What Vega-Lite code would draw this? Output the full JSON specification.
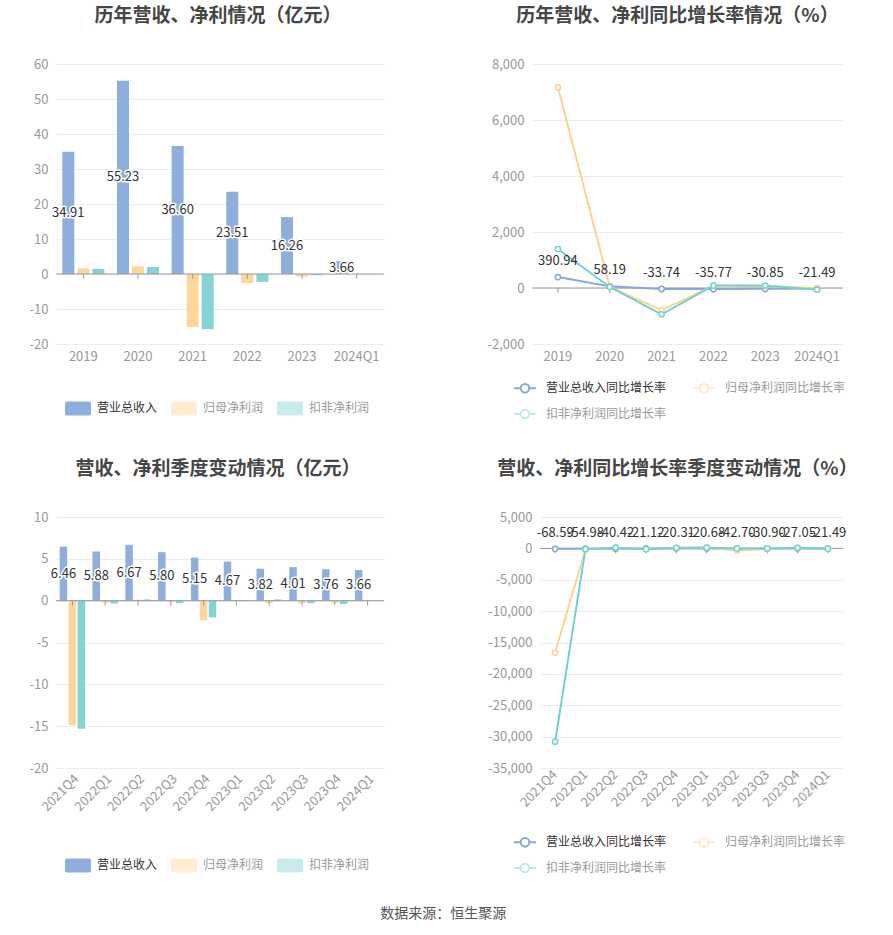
{
  "$schema": "https://vega.github.io/schema/vega-lite/v6.json",
  "background": "white",
  "padding": {"left": 29, "top": 7, "right": 5, "bottom": 5},
  "datasets": {
    "annualAmt": [
      {"period": "2019", "series": "营业总收入", "value": 34.91},
      {"period": "2020", "series": "营业总收入", "value": 55.23},
      {"period": "2021", "series": "营业总收入", "value": 36.60},
      {"period": "2022", "series": "营业总收入", "value": 23.51},
      {"period": "2023", "series": "营业总收入", "value": 16.26},
      {"period": "2024Q1", "series": "营业总收入", "value": 3.66},
      {"period": "2019", "series": "归母净利润", "value": 1.6},
      {"period": "2020", "series": "归母净利润", "value": 2.2},
      {"period": "2021", "series": "归母净利润", "value": -15.1},
      {"period": "2022", "series": "归母净利润", "value": -2.6},
      {"period": "2023", "series": "归母净利润", "value": -0.75},
      {"period": "2024Q1", "series": "归母净利润", "value": 0.05},
      {"period": "2019", "series": "扣非净利润", "value": 1.45},
      {"period": "2020", "series": "扣非净利润", "value": 2.0},
      {"period": "2021", "series": "扣非净利润", "value": -15.75},
      {"period": "2022", "series": "扣非净利润", "value": -2.25},
      {"period": "2023", "series": "扣非净利润", "value": -0.35},
      {"period": "2024Q1", "series": "扣非净利润", "value": 0.02}
    ],
    "annualGrowth": [
      {"period": "2019", "series": "营业总收入同比增长率", "value": 390.94},
      {"period": "2020", "series": "营业总收入同比增长率", "value": 58.19},
      {"period": "2021", "series": "营业总收入同比增长率", "value": -33.74},
      {"period": "2022", "series": "营业总收入同比增长率", "value": -35.77},
      {"period": "2023", "series": "营业总收入同比增长率", "value": -30.85},
      {"period": "2024Q1", "series": "营业总收入同比增长率", "value": -21.49},
      {"period": "2019", "series": "归母净利润同比增长率", "value": 7170},
      {"period": "2020", "series": "归母净利润同比增长率", "value": 42},
      {"period": "2021", "series": "归母净利润同比增长率", "value": -790},
      {"period": "2022", "series": "归母净利润同比增长率", "value": 83},
      {"period": "2023", "series": "归母净利润同比增长率", "value": 73},
      {"period": "2024Q1", "series": "归母净利润同比增长率", "value": -5},
      {"period": "2019", "series": "扣非净利润同比增长率", "value": 1390},
      {"period": "2020", "series": "扣非净利润同比增长率", "value": 38},
      {"period": "2021", "series": "扣非净利润同比增长率", "value": -940},
      {"period": "2022", "series": "扣非净利润同比增长率", "value": 86},
      {"period": "2023", "series": "扣非净利润同比增长率", "value": 87},
      {"period": "2024Q1", "series": "扣非净利润同比增长率", "value": -60}
    ],
    "quarterAmt": [
      {"period": "2021Q4", "series": "营业总收入", "value": 6.46},
      {"period": "2022Q1", "series": "营业总收入", "value": 5.88},
      {"period": "2022Q2", "series": "营业总收入", "value": 6.67},
      {"period": "2022Q3", "series": "营业总收入", "value": 5.80},
      {"period": "2022Q4", "series": "营业总收入", "value": 5.15},
      {"period": "2023Q1", "series": "营业总收入", "value": 4.67},
      {"period": "2023Q2", "series": "营业总收入", "value": 3.82},
      {"period": "2023Q3", "series": "营业总收入", "value": 4.01},
      {"period": "2023Q4", "series": "营业总收入", "value": 3.76},
      {"period": "2024Q1", "series": "营业总收入", "value": 3.66},
      {"period": "2021Q4", "series": "归母净利润", "value": -14.9},
      {"period": "2022Q1", "series": "归母净利润", "value": -0.25},
      {"period": "2022Q2", "series": "归母净利润", "value": 0.12},
      {"period": "2022Q3", "series": "归母净利润", "value": -0.2},
      {"period": "2022Q4", "series": "归母净利润", "value": -2.35},
      {"period": "2023Q1", "series": "归母净利润", "value": 0.05},
      {"period": "2023Q2", "series": "归母净利润", "value": -0.3},
      {"period": "2023Q3", "series": "归母净利润", "value": -0.3},
      {"period": "2023Q4", "series": "归母净利润", "value": -0.3},
      {"period": "2024Q1", "series": "归母净利润", "value": 0.05},
      {"period": "2021Q4", "series": "扣非净利润", "value": -15.3},
      {"period": "2022Q1", "series": "扣非净利润", "value": -0.35},
      {"period": "2022Q2", "series": "扣非净利润", "value": 0.15},
      {"period": "2022Q3", "series": "扣非净利润", "value": -0.3},
      {"period": "2022Q4", "series": "扣非净利润", "value": -2.0},
      {"period": "2023Q1", "series": "扣非净利润", "value": 0.05},
      {"period": "2023Q2", "series": "扣非净利润", "value": 0.15},
      {"period": "2023Q3", "series": "扣非净利润", "value": -0.3},
      {"period": "2023Q4", "series": "扣非净利润", "value": -0.4},
      {"period": "2024Q1", "series": "扣非净利润", "value": 0.02}
    ],
    "quarterGrowth": [
      {"period": "2021Q4", "series": "营业总收入同比增长率", "value": -68.59},
      {"period": "2022Q1", "series": "营业总收入同比增长率", "value": -54.98},
      {"period": "2022Q2", "series": "营业总收入同比增长率", "value": -40.42},
      {"period": "2022Q3", "series": "营业总收入同比增长率", "value": -21.12},
      {"period": "2022Q4", "series": "营业总收入同比增长率", "value": -20.31},
      {"period": "2023Q1", "series": "营业总收入同比增长率", "value": -20.68},
      {"period": "2023Q2", "series": "营业总收入同比增长率", "value": -42.70},
      {"period": "2023Q3", "series": "营业总收入同比增长率", "value": -30.90},
      {"period": "2023Q4", "series": "营业总收入同比增长率", "value": -27.05},
      {"period": "2024Q1", "series": "营业总收入同比增长率", "value": -21.49},
      {"period": "2021Q4", "series": "归母净利润同比增长率", "value": -16600},
      {"period": "2022Q1", "series": "归母净利润同比增长率", "value": -120},
      {"period": "2022Q2", "series": "归母净利润同比增长率", "value": 105},
      {"period": "2022Q3", "series": "归母净利润同比增长率", "value": -110},
      {"period": "2022Q4", "series": "归母净利润同比增长率", "value": 84},
      {"period": "2023Q1", "series": "归母净利润同比增长率", "value": 120},
      {"period": "2023Q2", "series": "归母净利润同比增长率", "value": -350},
      {"period": "2023Q3", "series": "归母净利润同比增长率", "value": -50},
      {"period": "2023Q4", "series": "归母净利润同比增长率", "value": 87},
      {"period": "2024Q1", "series": "归母净利润同比增长率", "value": 0},
      {"period": "2021Q4", "series": "扣非净利润同比增长率", "value": -30800},
      {"period": "2022Q1", "series": "扣非净利润同比增长率", "value": -130},
      {"period": "2022Q2", "series": "扣非净利润同比增长率", "value": 110},
      {"period": "2022Q3", "series": "扣非净利润同比增长率", "value": -120},
      {"period": "2022Q4", "series": "扣非净利润同比增长率", "value": 87},
      {"period": "2023Q1", "series": "扣非净利润同比增长率", "value": 114},
      {"period": "2023Q2", "series": "扣非净利润同比增长率", "value": 0},
      {"period": "2023Q3", "series": "扣非净利润同比增长率", "value": 0},
      {"period": "2023Q4", "series": "扣非净利润同比增长率", "value": 80},
      {"period": "2024Q1", "series": "扣非净利润同比增长率", "value": -60}
    ]
  },
  "title": {"text": "数据来源：恒生聚源", "orient": "bottom", "anchor": "middle", "frame": "bounds", "fontSize": 14, "fontWeight": "normal", "color": "#555555", "offset": 30, "dx": 0},
  "spacing": 453,
  "bounds": "flush",
  "resolve": {"scale": {"color": "independent", "xOffset": "independent"}, "legend": {"color": "independent"}},
  "vconcat": [
    {
      "spacing": 148,
      "bounds": "flush",
      "resolve": {"scale": {"color": "independent", "xOffset": "independent"}, "legend": {"color": "independent"}},
      "hconcat": [
        {
          "width": 328, "height": 280,
          "title": {"text": "历年营收、净利情况（亿元）", "dx": -2},
          "layer": [
            {
              "data": {"name": "annualAmt"},
              "mark": {"type": "bar"},
              "encoding": {
                "x": {"field": "period", "type": "nominal", "sort": null, "scale": {"paddingInner": 0.23, "paddingOuter": 0.115}, "axis": {"labelAngle": 0, "labelAlign": "center", "labelBaseline": "top", "labelPadding": 6}},
                "xOffset": {"field": "series", "type": "nominal", "sort": null, "scale": {"domain": ["营业总收入", "归母净利润", "扣非净利润"], "paddingInner": 0.2, "paddingOuter": 0}},
                "y": {"field": "value", "type": "quantitative", "scale": {"domain": [-20, 60]}, "axis": {"values": [-20, -10, 0, 10, 20, 30, 40, 50, 60], "tickCount": 12, "labelOverlap": false}},
                "color": {"field": "series", "type": "nominal", "scale": {"domain": ["营业总收入", "归母净利润", "扣非净利润"], "range": ["#8EAEDC", "#FFD699", "#84D4D6"]},
                  "legend": {"orient": "none", "legendX": 9, "legendY": 331, "direction": "horizontal", "title": null,
                    "symbolType": "M-0.85,-0.54H0.85A0.15,0.15,0,0,1,1,-0.39V0.39A0.15,0.15,0,0,1,0.85,0.54H-0.85A0.15,0.15,0,0,1,-1,0.39V-0.39A0.15,0.15,0,0,1,-0.85,-0.54Z",
                    "symbolSize": 676, "symbolStrokeWidth": 0, "labelFontSize": 12, "labelOffset": 6, "columnPadding": 12,
                    "encode": {"symbols": {"update": {"opacity": {"signal": "datum.label === '营业总收入' ? 1 : 0.45"}}}, "labels": {"update": {"fill": {"signal": "datum.label === '营业总收入' ? '#333333' : '#999999'"}}}}}}
              }
            },
            {"data": {"values": [{}]}, "mark": {"type": "rule", "color": "#999999"}, "encoding": {"y": {"datum": 0}}},
            {
              "data": {"name": "annualAmt"},
              "transform": [{"filter": "datum.series === '营业总收入'"}],
              "mark": {"type": "rule", "color": "#999999"},
              "encoding": {"x": {"field": "period", "type": "nominal", "sort": null}, "y": {"datum": 0}, "y2": {"datum": -1.4}}
            },
            {
              "data": {"name": "annualAmt"},
              "transform": [{"filter": "datum.series === '营业总收入'"}],
              "mark": {"type": "text", "fontSize": 13, "fill": "white", "stroke": "white", "strokeWidth": 3, "strokeJoin": "round"},
              "encoding": {
                "x": {"field": "period", "type": "nominal", "sort": null},
                "xOffset": {"field": "series", "type": "nominal", "sort": null},
                "y": {"field": "value", "type": "quantitative", "stack": "zero", "bandPosition": 0.5},
                "text": {"field": "value", "type": "quantitative", "format": ".2f"}
              }
            },
            {
              "data": {"name": "annualAmt"},
              "transform": [{"filter": "datum.series === '营业总收入'"}],
              "mark": {"type": "text", "fontSize": 13, "fill": "#333333"},
              "encoding": {
                "x": {"field": "period", "type": "nominal", "sort": null},
                "xOffset": {"field": "series", "type": "nominal", "sort": null},
                "y": {"field": "value", "type": "quantitative", "stack": "zero", "bandPosition": 0.5},
                "text": {"field": "value", "type": "quantitative", "format": ".2f"}
              }
            }
          ]
        },
        {
          "width": 311, "height": 280,
          "title": {"text": "历年营收、净利同比增长率情况（%）", "dx": -10},
          "layer": [
            {"data": {"values": [{}]}, "mark": {"type": "rule", "color": "#999999"}, "encoding": {"y": {"datum": 0}}},
            {
              "data": {"name": "annualGrowth"},
              "transform": [{"filter": "datum.series === '营业总收入同比增长率'"}],
              "mark": {"type": "rule", "color": "#999999"},
              "encoding": {"x": {"field": "period", "type": "nominal", "sort": null, "axis": {"labelAngle": 0, "labelAlign": "center", "labelBaseline": "top", "labelPadding": 6}}, "y": {"datum": 0}, "y2": {"datum": -178}}
            },
            {
              "data": {"name": "annualGrowth"},
              "mark": {"type": "line", "strokeWidth": 2},
              "encoding": {
                "x": {"field": "period", "type": "nominal", "sort": null, "axis": {"labelAngle": 0, "labelAlign": "center", "labelBaseline": "top", "labelPadding": 6}},
                "y": {"field": "value", "type": "quantitative", "scale": {"domain": [-2000, 8000]}, "axis": {"values": [-2000, 0, 2000, 4000, 6000, 8000], "tickCount": 12, "labelOverlap": false}},
                "color": {"field": "series", "type": "nominal", "scale": {"domain": ["营业总收入同比增长率", "归母净利润同比增长率", "扣非净利润同比增长率"], "range": ["#87A7DB", "#FFD28F", "#74D1D2"]},
                  "legend": {"orient": "none", "legendX": -19, "legendY": 312, "direction": "horizontal", "columns": 2, "title": null,
                    "symbolType": "M-1,0H-0.39M0.39,0H1M0.39,0A0.39,0.39,0,1,1,-0.39,0A0.39,0.39,0,1,1,0.39,0",
                    "symbolSize": 484, "symbolStrokeWidth": 2, "labelFontSize": 12, "labelOffset": 9, "columnPadding": 22, "rowPadding": 5,
                    "encode": {"symbols": {"update": {"fill": {"value": "white"}, "opacity": {"signal": "datum.label === '营业总收入同比增长率' ? 1 : 0.45"}}}, "labels": {"update": {"fill": {"signal": "datum.label === '营业总收入同比增长率' ? '#333333' : '#999999'"}}}}}}
              }
            },
            {
              "data": {"name": "annualGrowth"},
              "mark": {"type": "point", "filled": false, "fill": "white", "fillOpacity": 1, "size": 28, "strokeWidth": 1.5, "opacity": 1},
              "encoding": {
                "x": {"field": "period", "type": "nominal", "sort": null},
                "y": {"field": "value", "type": "quantitative"},
                "color": {"field": "series", "type": "nominal", "legend": null}
              }
            },
            {
              "data": {"name": "annualGrowth"},
              "transform": [{"filter": "datum.series === '营业总收入同比增长率'"}],
              "mark": {"type": "text", "fontSize": 13, "fill": "#333333", "dy": -16},
              "encoding": {
                "x": {"field": "period", "type": "nominal", "sort": null},
                "y": {"field": "value", "type": "quantitative"},
                "text": {"field": "value", "type": "quantitative", "format": ".2f"}
              }
            }
          ]
        }
      ]
    },
    {
      "spacing": 156,
      "bounds": "flush",
      "resolve": {"scale": {"color": "independent", "xOffset": "independent"}, "legend": {"color": "independent"}},
      "hconcat": [
        {
          "width": 328, "height": 251,
          "title": {"text": "营收、净利季度变动情况（亿元）", "dx": -2},
          "layer": [
            {
              "data": {"name": "quarterAmt"},
              "mark": {"type": "bar"},
              "encoding": {
                "x": {"field": "period", "type": "nominal", "sort": null, "scale": {"paddingInner": 0.226, "paddingOuter": 0.113}, "axis": {"labelAngle": -45, "labelPadding": 4}},
                "xOffset": {"field": "series", "type": "nominal", "sort": null, "scale": {"domain": ["营业总收入", "归母净利润", "扣非净利润"], "paddingInner": 0.16, "paddingOuter": 0}},
                "y": {"field": "value", "type": "quantitative", "scale": {"domain": [-20, 10]}, "axis": {"values": [-20, -15, -10, -5, 0, 5, 10], "tickCount": 12, "labelOverlap": false}},
                "color": {"field": "series", "type": "nominal", "scale": {"domain": ["营业总收入", "归母净利润", "扣非净利润"], "range": ["#8EAEDC", "#FFD699", "#84D4D6"]},
                  "legend": {"orient": "none", "legendX": 9, "legendY": 335, "direction": "horizontal", "title": null,
                    "symbolType": "M-0.85,-0.54H0.85A0.15,0.15,0,0,1,1,-0.39V0.39A0.15,0.15,0,0,1,0.85,0.54H-0.85A0.15,0.15,0,0,1,-1,0.39V-0.39A0.15,0.15,0,0,1,-0.85,-0.54Z",
                    "symbolSize": 676, "symbolStrokeWidth": 0, "labelFontSize": 12, "labelOffset": 6, "columnPadding": 12,
                    "encode": {"symbols": {"update": {"opacity": {"signal": "datum.label === '营业总收入' ? 1 : 0.45"}}}, "labels": {"update": {"fill": {"signal": "datum.label === '营业总收入' ? '#333333' : '#999999'"}}}}}}
              }
            },
            {"data": {"values": [{}]}, "mark": {"type": "rule", "color": "#999999"}, "encoding": {"y": {"datum": 0}}},
            {
              "data": {"name": "quarterAmt"},
              "transform": [{"filter": "datum.series === '营业总收入'"}],
              "mark": {"type": "rule", "color": "#999999"},
              "encoding": {"x": {"field": "period", "type": "nominal", "sort": null}, "y": {"datum": 0}, "y2": {"datum": -0.6}}
            },
            {
              "data": {"name": "quarterAmt"},
              "transform": [{"filter": "datum.series === '营业总收入'"}],
              "mark": {"type": "text", "fontSize": 13, "fill": "white", "stroke": "white", "strokeWidth": 3, "strokeJoin": "round"},
              "encoding": {
                "x": {"field": "period", "type": "nominal", "sort": null},
                "xOffset": {"field": "series", "type": "nominal", "sort": null},
                "y": {"field": "value", "type": "quantitative", "stack": "zero", "bandPosition": 0.5},
                "text": {"field": "value", "type": "quantitative", "format": ".2f"}
              }
            },
            {
              "data": {"name": "quarterAmt"},
              "transform": [{"filter": "datum.series === '营业总收入'"}],
              "mark": {"type": "text", "fontSize": 13, "fill": "#333333"},
              "encoding": {
                "x": {"field": "period", "type": "nominal", "sort": null},
                "xOffset": {"field": "series", "type": "nominal", "sort": null},
                "y": {"field": "value", "type": "quantitative", "stack": "zero", "bandPosition": 0.5},
                "text": {"field": "value", "type": "quantitative", "format": ".2f"}
              }
            }
          ]
        },
        {
          "width": 303, "height": 251,
          "title": {"text": "营收、净利同比增长率季度变动情况（%）", "dx": -14},
          "layer": [
            {"data": {"values": [{}]}, "mark": {"type": "rule", "color": "#999999"}, "encoding": {"y": {"datum": 0}}},
            {
              "data": {"name": "quarterGrowth"},
              "transform": [{"filter": "datum.series === '营业总收入同比增长率'"}],
              "mark": {"type": "rule", "color": "#999999"},
              "encoding": {"x": {"field": "period", "type": "nominal", "sort": null}, "y": {"datum": 0}, "y2": {"datum": -800}}
            },
            {
              "data": {"name": "quarterGrowth"},
              "mark": {"type": "line", "strokeWidth": 2},
              "encoding": {
                "x": {"field": "period", "type": "nominal", "sort": null, "axis": {"labelAngle": -45, "labelPadding": 4}},
                "y": {"field": "value", "type": "quantitative", "scale": {"domain": [-35000, 5000]}, "axis": {"values": [-35000, -30000, -25000, -20000, -15000, -10000, -5000, 0, 5000], "tickCount": 12, "labelOverlap": false}},
                "color": {"field": "series", "type": "nominal", "scale": {"domain": ["营业总收入同比增长率", "归母净利润同比增长率", "扣非净利润同比增长率"], "range": ["#87A7DB", "#FFD28F", "#74D1D2"]},
                  "legend": {"orient": "none", "legendX": -27, "legendY": 313, "direction": "horizontal", "columns": 2, "title": null,
                    "symbolType": "M-1,0H-0.39M0.39,0H1M0.39,0A0.39,0.39,0,1,1,-0.39,0A0.39,0.39,0,1,1,0.39,0",
                    "symbolSize": 484, "symbolStrokeWidth": 2, "labelFontSize": 12, "labelOffset": 9, "columnPadding": 22, "rowPadding": 5,
                    "encode": {"symbols": {"update": {"fill": {"value": "white"}, "opacity": {"signal": "datum.label === '营业总收入同比增长率' ? 1 : 0.45"}}}, "labels": {"update": {"fill": {"signal": "datum.label === '营业总收入同比增长率' ? '#333333' : '#999999'"}}}}}}
              }
            },
            {
              "data": {"name": "quarterGrowth"},
              "mark": {"type": "point", "filled": false, "fill": "white", "fillOpacity": 1, "size": 28, "strokeWidth": 1.5, "opacity": 1},
              "encoding": {
                "x": {"field": "period", "type": "nominal", "sort": null},
                "y": {"field": "value", "type": "quantitative"},
                "color": {"field": "series", "type": "nominal", "legend": null}
              }
            },
            {
              "data": {"name": "quarterGrowth"},
              "transform": [{"filter": "datum.series === '营业总收入同比增长率'"}],
              "mark": {"type": "text", "fontSize": 13, "fill": "#333333", "dy": -16},
              "encoding": {
                "x": {"field": "period", "type": "nominal", "sort": null},
                "y": {"field": "value", "type": "quantitative"},
                "text": {"field": "value", "type": "quantitative", "format": ".2f"}
              }
            }
          ]
        }
      ]
    }
  ],
  "config": {
    "font": "Noto Sans CJK SC",
    "view": {"stroke": null},
    "locale": {"number": {"decimal": ".", "thousands": ",", "grouping": [3], "currency": ["", ""], "minus": "-"}},
    "axis": {"labelColor": "#999999", "labelFontSize": 13, "labelFont": "Noto Sans CJK SC", "domain": false, "ticks": false, "title": null, "gridColor": "#E8ECF4", "gridWidth": 1},
    "axisX": {"grid": false},
    "axisY": {"grid": true, "labelPadding": 8},
    "title": {"fontSize": 19, "fontWeight": "bold", "color": "#464646", "offset": 32, "frame": "group", "anchor": "middle", "font": "Noto Sans CJK SC"},
    "legend": {"labelFont": "Noto Sans CJK SC", "labelColor": "#333333", "padding": 0}
  }
}
